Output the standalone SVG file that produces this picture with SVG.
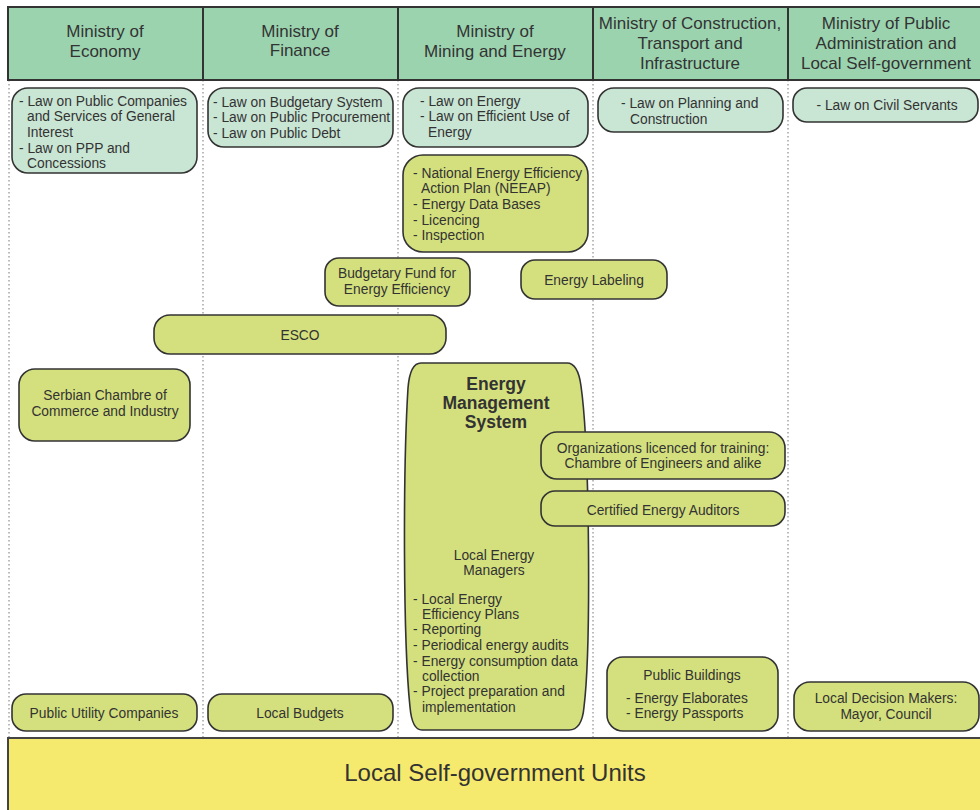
<svg xmlns="http://www.w3.org/2000/svg" width="980" height="810" viewBox="0 0 980 810">
<style>
text{font-family:"Liberation Sans",Arial,sans-serif;fill:#333;}
.h{font-size:17px;text-anchor:middle;}
.t{font-size:13.8px;}
.c{text-anchor:middle;}
.law{fill:#c9e5d4;stroke:#333;stroke-width:1.6;}
.yg{fill:#d4e07d;stroke:#333;stroke-width:1.6;}
.dot{stroke:#777;stroke-width:1;stroke-dasharray:1.5,2.5;}
</style>
<rect width="980" height="810" fill="#fff"/>
<g id="guides">
<line class="dot" x1="9" y1="80" x2="9" y2="738"/>
<line class="dot" x1="203" y1="80" x2="203" y2="738"/>
<line class="dot" x1="398" y1="80" x2="398" y2="738"/>
<line class="dot" x1="593" y1="80" x2="593" y2="738"/>
<line class="dot" x1="788" y1="80" x2="788" y2="738"/>
</g>
<g id="header">
<rect x="8" y="7" width="973" height="73" fill="#9bd3af" stroke="#333" stroke-width="2"/>
<line x1="203" y1="7" x2="203" y2="80" stroke="#333" stroke-width="2"/>
<line x1="398" y1="7" x2="398" y2="80" stroke="#333" stroke-width="2"/>
<line x1="593" y1="7" x2="593" y2="80" stroke="#333" stroke-width="2"/>
<line x1="788" y1="7" x2="788" y2="80" stroke="#333" stroke-width="2"/>
<text class="h" x="105" y="37">Ministry of</text>
<text class="h" x="105" y="57">Economy</text>
<text class="h" x="300" y="37">Ministry of</text>
<text class="h" x="300" y="56">Finance</text>
<text class="h" x="495" y="37">Ministry of</text>
<text class="h" x="495" y="57">Mining and Energy</text>
<text class="h" x="690" y="29">Ministry of Construction,</text>
<text class="h" x="690" y="49">Transport and</text>
<text class="h" x="690" y="69">Infrastructure</text>
<text class="h" x="886" y="29">Ministry of Public</text>
<text class="h" x="886" y="49">Administration and</text>
<text class="h" x="886" y="69">Local Self-government</text>
</g>
<g id="laws-economy">
<rect class="law" x="12" y="88" width="185" height="85" rx="16"/>
<text class="t" x="19" y="106" font-size="14.1">- Law on Public Companies</text>
<text class="t" x="27" y="121" font-size="14.1">and Services of General</text>
<text class="t" x="27" y="137" font-size="14.1">Interest</text>
<text class="t" x="19" y="153" font-size="14.1">- Law on PPP and</text>
<text class="t" x="27" y="168" font-size="14.1">Concessions</text>
</g>
<g id="laws-finance">
<rect class="law" x="208" y="88" width="185" height="59" rx="16"/>
<text class="t" x="213" y="107">- Law on Budgetary System</text>
<text class="t" x="213" y="122">- Law on Public Procurement</text>
<text class="t" x="213" y="138">- Law on Public Debt</text>
</g>
<g id="laws-mining">
<rect class="law" x="403" y="88" width="185" height="59" rx="16"/>
<text class="t" x="420" y="106">- Law on Energy</text>
<text class="t" x="420" y="121">- Law on Efficient Use of</text>
<text class="t" x="428" y="137">Energy</text>
</g>
<g id="laws-construction">
<rect class="law" x="598" y="88" width="185" height="44" rx="16"/>
<text class="t" x="621" y="108">- Law on Planning and</text>
<text class="t" x="630" y="124">Construction</text>
</g>
<g id="laws-admin">
<rect class="law" x="793" y="88" width="185" height="34" rx="14"/>
<text class="t c" x="887" y="110">- Law on Civil Servants</text>
</g>
<g id="neeap">
<rect class="yg" x="403" y="155" width="185" height="97" rx="20"/>
<text class="t" x="413" y="178">- National Energy Efficiency</text>
<text class="t" x="421" y="193">Action Plan (NEEAP)</text>
<text class="t" x="413" y="209">- Energy Data Bases</text>
<text class="t" x="413" y="225">- Licencing</text>
<text class="t" x="413" y="240">- Inspection</text>
</g>
<g id="budgetary-fund">
<rect class="yg" x="325" y="258" width="145" height="48" rx="14"/>
<text class="t c" x="397" y="278">Budgetary Fund for</text>
<text class="t c" x="397" y="294">Energy Efficiency</text>
</g>
<g id="energy-labeling">
<rect class="yg" x="521" y="260" width="146" height="39" rx="14"/>
<text class="t c" x="594" y="285">Energy Labeling</text>
</g>
<g id="esco">
<rect class="yg" x="154" y="315" width="292" height="39" rx="16"/>
<text class="t c" x="300" y="340">ESCO</text>
</g>
<g id="serbian-chambre">
<rect class="yg" x="19" y="369" width="171" height="72" rx="16"/>
<text class="t c" x="105" y="400">Serbian Chambre of</text>
<text class="t c" x="105" y="416">Commerce and Industry</text>
</g>
<g id="ems">
<path class="yg" d="M421,363 L567,363 Q578,363 581,386 C590,450 591,650 584,707 Q582,730 569,730 L422,730 Q412,730 410,707 C403,640 403,470 408,388 Q410,363 421,363 Z"/>
<text x="496" y="390" text-anchor="middle" font-size="17.5" font-weight="bold">Energy</text>
<text x="496" y="409" text-anchor="middle" font-size="17.5" font-weight="bold">Management</text>
<text x="496" y="428" text-anchor="middle" font-size="17.5" font-weight="bold">System</text>
<text class="t c" x="494" y="560">Local Energy</text>
<text class="t c" x="494" y="575">Managers</text>
<text class="t" x="413" y="604">- Local Energy</text>
<text class="t" x="422" y="619">Efficiency Plans</text>
<text class="t" x="413" y="634">- Reporting</text>
<text class="t" x="413" y="650">- Periodical energy audits</text>
<text class="t" x="413" y="666">- Energy consumption data</text>
<text class="t" x="422" y="681">collection</text>
<text class="t" x="413" y="696">- Project preparation and</text>
<text class="t" x="422" y="712">implementation</text>
</g>
<g id="organizations">
<rect class="yg" x="541" y="432" width="244" height="47" rx="16"/>
<text class="t c" x="663" y="453">Organizations licenced for training:</text>
<text class="t c" x="663" y="468">Chambre of Engineers and alike</text>
</g>
<g id="auditors">
<rect class="yg" x="541" y="491" width="244" height="35" rx="14"/>
<text class="t c" x="663" y="515">Certified Energy Auditors</text>
</g>
<g id="public-buildings">
<rect class="yg" x="607" y="657" width="171" height="74" rx="16"/>
<text class="t c" x="692" y="680">Public Buildings</text>
<text class="t" x="626" y="703">- Energy Elaborates</text>
<text class="t" x="626" y="718">- Energy Passports</text>
</g>
<g id="public-utility">
<rect class="yg" x="12" y="694" width="185" height="37" rx="14"/>
<text class="t c" x="104" y="718">Public Utility Companies</text>
</g>
<g id="local-budgets">
<rect class="yg" x="208" y="694" width="185" height="37" rx="14"/>
<text class="t c" x="300" y="718">Local Budgets</text>
</g>
<g id="local-decision">
<rect class="yg" x="794" y="682" width="185" height="49" rx="16"/>
<text class="t c" x="886" y="703">Local Decision Makers:</text>
<text class="t c" x="886" y="719">Mayor, Council</text>
</g>
<g id="connectors"></g>
<g id="local-units">
<rect x="8" y="738" width="974" height="74" fill="#f5ea6e" stroke="#444" stroke-width="2"/>
<text x="495" y="781" text-anchor="middle" font-size="24">Local Self-government Units</text>
</g>
</svg>
